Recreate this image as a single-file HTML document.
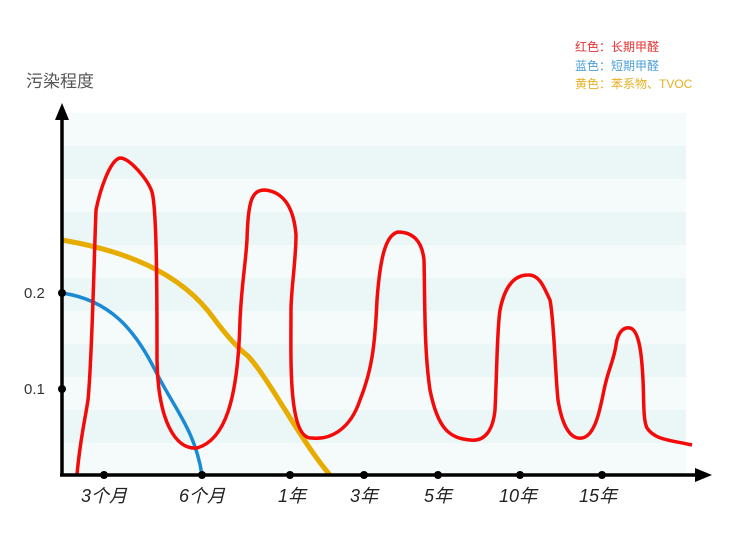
<!DOCTYPE html>
<html><head><meta charset="utf-8"><style>
body{margin:0;background:#fff;width:736px;height:528px;overflow:hidden}
text{font-family:"Liberation Sans","Noto Sans CJK SC",sans-serif}
</style></head><body>
<svg width="736" height="528" viewBox="0 0 736 528">
<rect x="64" y="113" width="622" height="362" fill="#f5fafa"/>
<g fill="#ebf6f6">
<rect x="64" y="146" width="622" height="33"/>
<rect x="64" y="212" width="622" height="33"/>
<rect x="64" y="278" width="622" height="33"/>
<rect x="64" y="344" width="622" height="33"/>
<rect x="64" y="410" width="622" height="33"/>
</g>
<text x="26" y="87" font-size="17" fill="#555">污染程度</text>
<text x="575" y="51" font-size="12" fill="#e53030">红色：长期甲醛</text>
<text x="575" y="70" font-size="12" fill="#4a9fd8">蓝色：短期甲醛</text>
<text x="575" y="88" font-size="12" fill="#e6b020">黄色：苯系物、TVOC</text>
<!-- yellow -->
<path d="M62 240 C120 250 180 270 215 320 C230 340 240 350 248 356 C270 380 300 440 330 475" fill="none" stroke="#e6ac00" stroke-width="5"/>
<!-- blue -->
<path d="M62 293 C110 300 135 330 155 370 C175 410 195 430 202 475" fill="none" stroke="#1a8ad4" stroke-width="3.5"/>
<!-- red -->
<path d="M77 475 C80 440 85 420 88 400 C92 360 94 260 96 210 C100 190 110 160 120 158 C130 158 148 180 152 192 C157 210 157 300 157 360 C158 420 175 450 197 448 C225 440 238 400 240 320 C242 280 245 270 247 240 C248 200 252 190 265 190 C285 192 294 210 296 235 C296 260 291 290 291 310 C291 360 288 440 312 438 C330 440 350 430 360 400 C372 370 375 345 377 300 C380 260 385 235 398 232 C412 232 422 240 424 260 C425 300 424 350 430 390 C438 430 450 438 470 440 C485 442 493 430 495 410 C497 370 497 330 500 310 C505 285 515 275 528 275 C540 274 545 290 550 300 C554 320 555 370 558 400 C562 425 570 440 582 438 C595 436 600 410 604 390 C608 370 614 360 616 345 C618 330 625 327 630 328 C640 330 642 360 643 380 C644 400 643 420 647 428 C655 440 670 440 692 445" fill="none" stroke="#f50a0a" stroke-width="3.5" stroke-linejoin="round"/>
<!-- axes -->
<line x1="62" y1="118" x2="62" y2="476" stroke="#000" stroke-width="3.5"/>
<polygon points="62,103 55,120 69,120" fill="#000"/>
<line x1="60" y1="475" x2="697" y2="475" stroke="#000" stroke-width="3.5"/>
<polygon points="712,475 695,468 695,482" fill="#000"/>
<g fill="#000">
<circle cx="62" cy="293" r="4"/><circle cx="62" cy="389" r="4"/>
<circle cx="104" cy="475" r="4"/><circle cx="202" cy="475" r="4"/><circle cx="290" cy="475" r="4"/><circle cx="364" cy="475" r="4"/><circle cx="438" cy="475" r="4"/><circle cx="520" cy="475" r="4"/><circle cx="602" cy="475" r="4"/>
</g>
<text x="24" y="298" font-size="15" fill="#333">0.2</text>
<text x="24" y="394" font-size="15" fill="#333">0.1</text>
<g font-size="18" fill="#222" font-style="italic" text-anchor="middle">
<text x="104" y="502">3个月</text><text x="202" y="502">6个月</text><text x="292" y="502">1年</text><text x="364" y="502">3年</text><text x="438" y="502">5年</text><text x="518" y="502">10年</text><text x="598" y="502">15年</text>
</g>
</svg>
</body></html>
